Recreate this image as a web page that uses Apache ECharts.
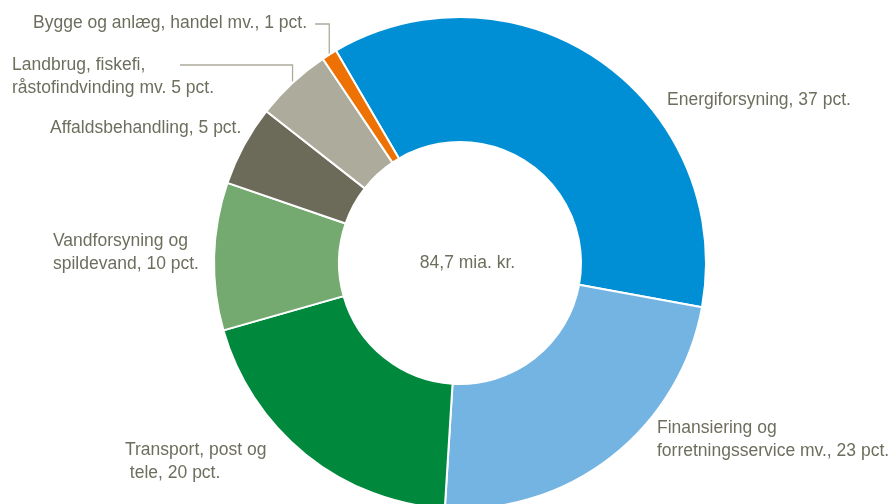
<!DOCTYPE html>
<html>
<head>
<meta charset="utf-8">
<script src="https://cdn.jsdelivr.net/npm/echarts@6/dist/echarts.min.js"></script>
<style>
html,body{margin:0;padding:0;background:#fff;}
#c{width:888px;height:504px;}
</style>
</head>
<body>
<div id="c"></div>
<script>
// Data
var categories = [
  'Energiforsyning',
  'Finansiering og forretningsservice mv.',
  'Transport, post og tele',
  'Vandforsyning og spildevand',
  'Affaldsbehandling',
  'Landbrug, fiskefi, råstofindvinding mv.',
  'Bygge og anlæg, handel mv.'
];
var shares = [36.3, 23.1, 19.6, 9.7, 5.3, 5.0, 1.0];
var labelTexts = [
  'Energiforsyning, 37 pct.',
  'Finansiering og\nforretningsservice mv., 23 pct.',
  'Transport, post og\n tele, 20 pct.',
  'Vandforsyning og\nspildevand, 10 pct.',
  'Affaldsbehandling, 5 pct.',
  'Landbrug, fiskefi,\nråstofindvinding mv. 5 pct.',
  'Bygge og anlæg, handel mv., 1 pct.'
];
var totalText = '84,7 mia. kr.';

// Styling / layout
var colors = ['#008fd5', '#74b4e3', '#00883c', '#74aa6f', '#6c6b59', '#adab9c', '#ee7203'];
var textColor = '#6e6e5e';
var FONT = '"Liberation Sans Narrow","Arial Narrow","Liberation Sans",Arial,sans-serif';
var FS = 17.5;
var CX = 460, CY = 263, R0 = 121, R1 = 246, START = 120.3;
var labelPos = [
  [667, 100], [657, 440], [125, 462], [53, 253], [50, 128], [12, 77], [33, 23]
];
// leader-line label anchors (text end x, line y) for items with lines
var leader = { 5: [180, 65], 6: [315, 24] };

var total = shares.reduce(function(a,b){return a+b;},0);
function midAngle(i){
  var before = 0;
  for (var k=0;k<i;k++) before += shares[k];
  var a = START - (before + shares[i]/2) / total * 360;
  return a * Math.PI / 180;
}

var chart = echarts.init(document.getElementById('c'), null, {renderer:'canvas'});
chart.setOption({
  animation: false,
  backgroundColor: '#fff',
  graphic: [{
    type: 'text',
    x: 467.5, y: CY,
    style: { text: totalText, fill: textColor, font: FS + 'px ' + FONT, align: 'center', verticalAlign: 'middle' }
  }],
  series: [{
    type: 'pie',
    center: [CX, CY],
    radius: [R0, R1],
    startAngle: START,
    clockwise: true,
    avoidLabelOverlap: false,
    silent: true,
    itemStyle: { borderColor: '#fff', borderWidth: 2 },
    label: {
      show: true,
      position: 'outside',
      color: textColor,
      fontFamily: FONT,
      fontSize: FS,
      lineHeight: 23,
      formatter: function(p){ return labelTexts[p.dataIndex]; }
    },
    labelLine: { show: true, lineStyle: { color: '#adab9c', width: 1.3 } },
    labelLayout: function(p){
      var i = p.dataIndex;
      var res = { x: labelPos[i][0], y: labelPos[i][1], align: 'left', verticalAlign: 'middle' };
      if (leader[i]) {
        var a = midAngle(i);
        var px = CX + R1 * Math.cos(a), py = CY - R1 * Math.sin(a);
        res.labelLinePoints = [[leader[i][0], leader[i][1]], [px, leader[i][1]], [px, py + 1]];
      }
      return res;
    },
    data: categories.map(function(c, i){
      return {
        name: c,
        value: shares[i],
        itemStyle: { color: colors[i] },
        labelLine: { show: !!leader[i] }
      };
    })
  }]
});
</script>
</body>
</html>
